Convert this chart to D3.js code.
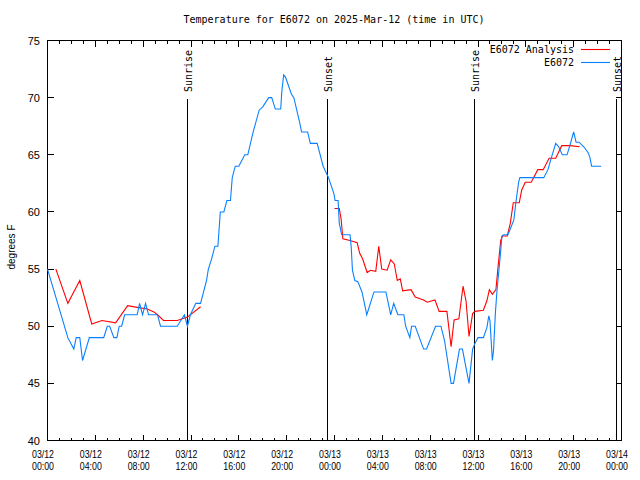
<!DOCTYPE html>
<html><head><meta charset="utf-8">
<script src="https://cdn.jsdelivr.net/npm/d3@7"></script>
<style>body{margin:0;background:#fff}</style>
</head><body><svg id="c" width="640" height="480"></svg>
<script>
// ---- data ----
const titleText = "Temperature for E6072 on 2025-Mar-12 (time in UTC)";
const startUTC = "2025-03-12T00:00:00Z";
const endUTC = "2025-03-14T00:00:00Z";
const yTicks = [40, 45, 50, 55, 60, 65, 70, 75];
const seriesNames = ["E6072 Analysis", "E6072"];
const seriesColors = ["#ff0000", "#0a80ff"];
// observed station (hours since start, degF)
const obsHours = [0.0,1.7,2.2,2.4,2.7,2.93,3.5,4.7,5.0,5.2,5.55,5.8,6.0,6.2,6.45,7.5,7.7,7.95,8.2,8.45,9.2,9.45,10.85,11.45,11.7,11.95,12.4,12.8,13.05,13.3,13.45,13.7,14.0,14.25,14.45,14.75,15.0,15.3,15.45,15.7,16.0,16.5,16.75,17.2,17.7,18.0,18.5,18.75,19.05,19.5,19.6,19.75,19.9,20.4,20.6,21.05,21.25,21.75,21.98,22.55,22.7,23.05,23.5,23.95,24.05,24.3,24.4,24.6,25.3,25.4,25.5,25.7,25.95,26.3,26.7,27.3,28.3,28.7,28.95,29.3,29.8,29.95,30.3,30.45,30.75,31.1,31.45,31.7,32.45,32.9,33.2,33.75,33.95,34.45,34.7,35.1,35.25,35.55,35.75,36.0,36.45,36.75,36.9,37.0,37.2,37.3,37.45,37.6,37.75,37.9,38.0,38.15,38.5,38.7,39.0,39.15,39.4,39.5,41.5,41.85,42.15,42.5,42.75,43.05,43.45,43.8,44.0,44.2,44.45,44.85,45.2,45.35,45.5,46.3];
const obsTemps = [55,49,48,49,49,47,49,49,50,50,49,49,50,50,51,51,52,51,52,51,51,50,50,51,50,51,52,52,53,54,55,55.8,57,57,60,60,61,61,63,64,64,65,65,67,68.9,69.2,70,70,69,69,70.6,72,71.8,70.3,70,68,67,67,66,66,65.4,64,63,61.6,61,61,59,58,58,56.9,54.9,54,53.9,53,51,53,53,51,52,51,51,50,49,50,50,49,48,48,50,50,48.75,45,45,48,48,45.8,45,48,48.5,49,49,49.9,50.9,50.5,47,47.9,51.1,53.3,54.9,56.6,57.9,58,58,58.5,59.3,60.7,62.6,63,63,63.7,64.8,66,65.7,65,65,66.25,67,66.1,66.1,65.7,65.2,64.8,64,64];
// analysis (null = gap)
const anaHours = [0.7,1.7,2.7,3.7,4.55,5.7,6.7,7.5,8.35,8.9,9.2,9.7,10.85,11.7,12.8,18.0,24.0,24.4,24.55,24.7,25.3,25.9,26.1,26.35,26.73,27.0,27.45,27.7,27.95,28.4,28.7,29.0,29.25,29.5,29.7,30.4,30.75,31.45,31.75,32.4,32.75,33.4,33.75,34.0,34.4,34.75,35.0,35.25,35.55,35.75,36.45,36.75,36.95,37.2,37.5,37.65,37.9,38.05,38.45,38.7,38.95,39.45,39.65,39.95,40.45,41.0,41.45,41.95,42.5,43.0,43.7,44.5];
const anaTemps = [55,52,54,50.2,50.5,50.3,51.8,51.65,51.5,51.25,51,50.5,50.5,50.8,51.7,null,60.3,60.3,59.4,57.65,57.5,57.3,56.4,55.9,54.7,54.9,54.8,57,55,54.9,55.8,55.45,54,54.15,53.1,53.2,52.55,52.3,52.1,52.3,51.3,51.3,48.2,50.55,50.65,53.5,52.2,49.1,51.1,51.3,51.4,52.25,53.2,52.8,53.2,54.9,57.5,57.9,57.9,59,60.8,60.8,61.9,62.6,62.6,63.7,63.7,64.7,64.7,65.8,65.8,65.7];
const sunLabels = ["Sunrise", "Sunset", "Sunrise", "Sunset"];
const sunHours = [11.7, 23.4, 35.7, 47.55];

// ---- drawing ----
const t0 = new Date(startUTC), t1 = new Date(endUTC);
const toDate = h => new Date(t0.getTime() + h * 3600e3);
const svg = d3.select("#c");
svg.append("rect").attr("width", 640).attr("height", 480).attr("fill", "#fff");
const L = 47.5, R = 621.5, T = 40.5, B = 440.5;
const x = d3.scaleUtc().domain([t0, t1]).range([L, R]);
const y = d3.scaleLinear().domain([40, 75]).range([B, T]);
const mono = "'DejaVu Sans Mono', 'Liberation Mono', monospace";
const sans = "'Liberation Sans', Arial, sans-serif";

const g = svg.append("g").attr("shape-rendering", "crispEdges");
// ticks
const minor = d3.utcHour.every(1).range(t0, new Date(t1.getTime() + 1));
const major = d3.utcHour.every(4).range(t0, new Date(t1.getTime() + 1));
minor.forEach(d => {
  const isMaj = d.getUTCHours() % 4 === 0;
  const len = isMaj ? 6 : 3;
  g.append("line").attr("x1", x(d)).attr("x2", x(d)).attr("y1", B).attr("y2", B - len).attr("stroke", "#000");
  g.append("line").attr("x1", x(d)).attr("x2", x(d)).attr("y1", T).attr("y2", T + len).attr("stroke", "#000");
});
yTicks.forEach(v => {
  g.append("line").attr("x1", L).attr("x2", L + 6).attr("y1", y(v)).attr("y2", y(v)).attr("stroke", "#000");
  g.append("line").attr("x1", R).attr("x2", R - 6).attr("y1", y(v)).attr("y2", y(v)).attr("stroke", "#000");
  svg.append("text").attr("x", 40).attr("y", y(v) + 4).attr("text-anchor", "end")
    .attr("font-family", sans).attr("font-size", 11).text(v);
});
const fD = d3.utcFormat("%m/%d"), fH = d3.utcFormat("%H:%M");
major.forEach(d => {
  const cx = x(d) - 4.5;
  [[fD(d), 458], [fH(d), 470]].forEach(([s, yy]) => {
    svg.append("text").attr("x", cx - 11).attr("y", yy)
      .attr("font-family", sans).attr("font-size", 10.5)
      .attr("textLength", 22).attr("lengthAdjust", "spacingAndGlyphs").text(s);
  });
});
// sun lines
sunHours.forEach((h, i) => {
  const xv = Math.round(x(toDate(h))) + 0.5;
  g.append("line").attr("x1", xv).attr("x2", xv).attr("y1", 99).attr("y2", B).attr("stroke", "#000");
  svg.append("text").attr("transform", `translate(${xv + 4},92) rotate(-90)`)
    .attr("font-family", mono).attr("font-size", 10).text(sunLabels[i]);
});
// frame
g.append("rect").attr("x", L).attr("y", T).attr("width", R - L).attr("height", B - T)
  .attr("fill", "none").attr("stroke", "#000");

// series
const ana = anaHours.map((h, i) => ({ d: toDate(h), v: anaTemps[i] }));
const obs = obsHours.map((h, i) => ({ d: toDate(h), v: obsTemps[i] }));
const line = d3.line().defined(p => p.v !== null).x(p => x(p.d)).y(p => y(p.v));
svg.append("path").datum(ana).attr("d", line).attr("fill", "none").attr("stroke", seriesColors[0]).attr("stroke-width", 1.1);
svg.append("path").datum(obs).attr("d", line).attr("fill", "none").attr("stroke", seriesColors[1]).attr("stroke-width", 1.1);

// legend
seriesNames.forEach((n, i) => {
  const yy = 49 + i * 13;
  svg.append("text").attr("x", 574).attr("y", yy + 4).attr("text-anchor", "end")
    .attr("font-family", mono).attr("font-size", 10).text(n);
  svg.append("line").attr("x1", 581).attr("x2", 610).attr("y1", yy + 0.5).attr("y2", yy + 0.5)
    .attr("stroke", seriesColors[i]).attr("stroke-width", 1.1);
});
// title and y label
svg.append("text").attr("x", 334).attr("y", 23).attr("text-anchor", "middle")
  .attr("font-family", mono).attr("font-size", 10).text(titleText);
svg.append("text").attr("transform", "translate(15,247) rotate(-90)").attr("text-anchor", "middle")
  .attr("font-family", sans).attr("font-size", 10).text("degrees F");
</script></body></html>
